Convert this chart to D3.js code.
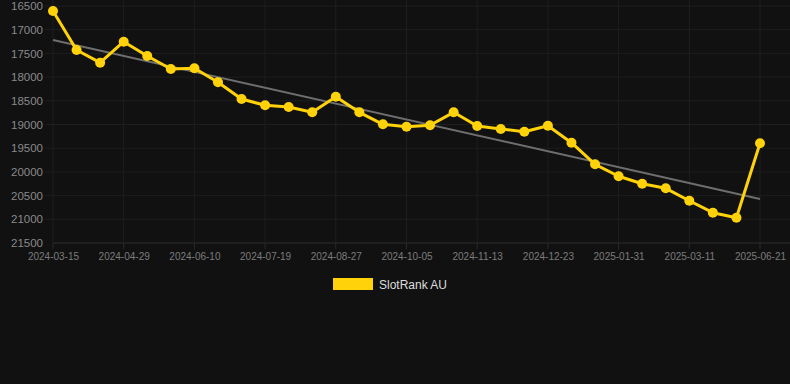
<!DOCTYPE html>
<html><head><meta charset="utf-8">
<script src="https://cdn.jsdelivr.net/npm/d3@7"></script>
<style>
html,body{margin:0;padding:0;background:#111111;}
svg{display:block;font-family:"Liberation Sans",Arial,sans-serif;}
</style></head>
<body>
<svg id="chart" width="790" height="384"></svg>
<script>
const dates = ["2024-03-15","2024-03-30","2024-04-14","2024-04-29","2024-05-13","2024-05-27",
"2024-06-10","2024-06-23","2024-07-06","2024-07-19","2024-08-01","2024-08-14",
"2024-08-27","2024-09-09","2024-09-22","2024-10-05","2024-10-18","2024-10-31",
"2024-11-13","2024-11-26","2024-12-10","2024-12-23","2025-01-05","2025-01-18",
"2025-01-31","2025-02-13","2025-02-26","2025-03-11","2025-03-24","2025-04-06","2025-06-21"];
const ranks = [16605,17428,17696,17253,17555,17829,17814,18110,18462,18595,18631,18743,
18413,18743,18996,19046,19017,18743,19032,19095,19152,19025,19384,19840,
20092,20249,20346,20608,20861,20966,19397];
const yTicks = [16500,17000,17500,18000,18500,19000,19500,20000,20500,21000,21500];
const seriesName = "SlotRank AU";

const svg = d3.select("#chart");
const pLeft = 53, pRight = 760, pTop = 6, pBottom = 243;

const x = d3.scalePoint().domain(dates).range([pLeft, pRight]);
const y = d3.scaleLinear().domain([16500, 21500]).range([pTop, pBottom]);

// horizontal grid
svg.append("g").selectAll("line").data(yTicks).join("line")
  .attr("x1", d => d === 21500 ? pLeft : 45).attr("x2", 790)
  .attr("y1", d => y(d)).attr("y2", d => y(d))
  .attr("stroke", d => d === 21500 ? "#2e2e2e" : "#1e1e1e").attr("stroke-width", 1);

// vertical grid every 3rd
const shown = dates.filter((d, i) => i % 3 === 0);
svg.append("g").selectAll("line").data(shown).join("line")
  .attr("x1", d => x(d)).attr("x2", d => x(d))
  .attr("y1", 0).attr("y2", pBottom)
  .attr("stroke", "#1e1e1e").attr("stroke-width", 1);
svg.append("g").selectAll("line").data(shown).join("line")
  .attr("x1", d => x(d)).attr("x2", d => x(d))
  .attr("y1", pBottom).attr("y2", pBottom + 6)
  .attr("stroke", "#2a2a2a").attr("stroke-width", 1);

// y labels
const yAxis = d3.axisLeft(y).tickValues(yTicks).tickSize(0).tickPadding(0).tickFormat(d3.format("d"));
const gy = svg.append("g").attr("transform", "translate(43,0)").call(yAxis);
gy.select(".domain").remove();
gy.selectAll("text").attr("fill", "#8a8a8a").style("font-size", "11.5px")
  .style("font-family", '"Liberation Sans",Arial,sans-serif');

// x labels
const xAxis = d3.axisBottom(x).tickValues(shown).tickSize(0).tickPadding(0);
const gx = svg.append("g").attr("transform", "translate(0,253)").call(xAxis);
gx.select(".domain").remove();
gx.selectAll("text").attr("fill", "#7c7c7c").style("font-size", "10px")
  .style("font-family", '"Liberation Sans",Arial,sans-serif');

// trend line (linear regression)
const n = ranks.length;
const xs = d3.range(n);
const mx = d3.mean(xs), my = d3.mean(ranks);
const slope = d3.sum(xs, i => (i - mx) * (ranks[i] - my)) / d3.sum(xs, i => (i - mx) ** 2);
const icpt = my - slope * mx;
svg.append("line")
  .attr("x1", x(dates[0])).attr("y1", y(icpt))
  .attr("x2", x(dates[n - 1])).attr("y2", y(icpt + slope * (n - 1)))
  .attr("stroke", "#6e6e6e").attr("stroke-width", 2);

// series line
const line = d3.line().x((d, i) => x(dates[i])).y(d => y(d));
svg.append("path").datum(ranks).attr("d", line)
  .attr("fill", "none").attr("stroke", "#FFD20A").attr("stroke-width", 3)
  .attr("stroke-linejoin", "round");
svg.append("g").selectAll("circle").data(ranks).join("circle")
  .attr("cx", (d, i) => x(dates[i])).attr("cy", d => y(d)).attr("r", 5)
  .attr("fill", "#FFD20A");

// legend
svg.append("rect").attr("x", 333).attr("y", 278).attr("width", 40).attr("height", 12).attr("fill", "#FFD20A");
svg.append("text").attr("x", 379).attr("y", 288.5).text(seriesName)
  .attr("fill", "#dddddd").style("font-size", "12px");
</script>
</body></html>
